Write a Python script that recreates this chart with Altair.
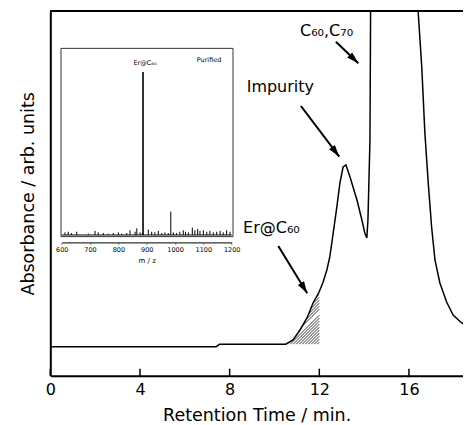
import altair as alt
import pandas as pd
import numpy as np

# ---------------- data ----------------
# HPLC chromatogram: retention time (min) vs absorbance (arb. units)
rt = [0.0, 7.40, 7.55, 10.50, 10.56, 10.83, 11.14, 11.45, 11.72, 11.99, 12.16,
      12.34, 12.47, 12.56, 12.79, 12.92, 13.06, 13.19, 13.37, 13.68, 13.90, 14.03,
      14.12, 14.17, 14.26, 14.30, 15.40, 16.41, 16.57, 16.71, 16.86, 17.01, 17.16,
      17.38, 17.68, 17.97, 18.35, 18.77]
absorb = [29, 29, 31.5, 31.5, 32.4, 35.7, 45.7, 57.7, 72.7, 83.7, 93,
          106, 119, 133, 170, 192.7, 208.7, 210.7, 198.7, 175.7, 155.7, 142.7,
          137.7, 155.7, 235.7, 420, 900, 364, 309, 242.7, 192.7, 148.7, 115.7,
          92.7, 73.7, 60.7, 52.7, 47.7]
rt_ticks = [0, 4, 8, 12, 16]
hatch_from, hatch_to, hatch_base = 10.45, 12.0, 31.5

# annotations (label, arrow tail, arrow head)
ann_text = ["C\u2086\u2080,C\u2087\u2080", "Impurity", "Er@C\u2086\u2080"]
ann_t = [11.14, 8.76, 8.60]
ann_a = [339.7, 284.0, 142.4]
arr_t0 = [12.74, 11.18, 10.17]
arr_a0 = [334.0, 269.7, 129.7]
arr_t1 = [13.74, 12.89, 11.46]
arr_a1 = [312.4, 219.0, 82.4]

# inset mass spectrum: m/z vs intensity (%)
ms_mz = [611.6, 623, 635, 653, 694, 717.5, 729, 747, 764.5, 782, 800, 812, 829.5,
         841, 859, 865, 876.5, 884.6, 887, 905.7, 917.5, 929, 941, 953, 964.5, 976,
         985, 994, 1005, 1017, 1029, 1037, 1047, 1061, 1070, 1080, 1088, 1100,
         1112, 1123, 1135, 1147, 1159, 1170, 1182, 1194]
ms_int = [1.6, 2.0, 1.2, 2.0, 0.8, 2.5, 1.6, 1.2, 0.8, 1.2, 1.6, 0.8, 1.2,
          2.9, 2.0, 4.1, 1.6, 1.2, 100, 3.3, 2.0, 1.6, 2.5, 1.2, 1.6, 1.2,
          14.3, 1.6, 1.2, 2.0, 2.9, 2.0, 1.6, 4.5, 2.9, 3.7, 2.5, 2.9,
          2.0, 2.5, 1.6, 2.0, 2.5, 1.6, 2.9, 2.0]
mz_ticks = [600, 700, 800, 900, 1000, 1100, 1200]
ms_text = ["Er@C\u2086\u2080", "Purified"]
ms_text_mz = [894, 1120]
ms_text_i = [105.3, 107.4]
ms_box_mz = [597.5, 1204.6]
ms_box_i = [-1.0, 114.5]

# ---------------- layout ----------------
W, H = 412.7, 364.7
X_MAX, Y_MAX = 18.41, 364.7
FONT = "DejaVu Sans"

chrom = pd.DataFrame({"t": rt, "a": absorb})

# hatch lines (45 deg on screen) filling the area under the Er@C60 shoulder
ppx = W / X_MAX
ppy = H / Y_MAX
rows = []
for x0 in np.arange(hatch_to - 80.0 / ppx, hatch_to, 3.0 / ppx):
    tt = np.linspace(max(x0, hatch_from), hatch_to, 600)
    line_a = hatch_base + (tt - x0) * ppx / ppy
    inside = line_a <= np.interp(tt, rt, absorb)
    idx = np.where(inside)[0]
    if len(idx) < 2:
        continue
    # first contiguous run
    run_end = idx[0]
    for k in idx[1:]:
        if k == run_end + 1:
            run_end = k
        else:
            break
    i0, i1 = idx[0], run_end
    if i1 - i0 < 2:
        continue
    rows.append({"t0": tt[i0], "a0": line_a[i0], "t1": tt[i1], "a1": line_a[i1]})
hatch = pd.DataFrame(rows)

ann = pd.DataFrame({"t": ann_t, "a": ann_a, "label": ann_text})
arr = pd.DataFrame({"t0": arr_t0, "a0": arr_a0, "t1": arr_t1, "a1": arr_a1})
arr["ang"] = [
    float(np.degrees(np.arctan2((t1 - t0) * ppx, -((a0 - a1) * ppy))) % 360)
    for t0, a0, t1, a1 in zip(arr_t0, arr_a0, arr_t1, arr_a1)
]
ticks_df = pd.DataFrame({"tv": rt_ticks})


def xs():
    return alt.Scale(domain=[0, X_MAX], nice=False, zero=False)


def ys():
    return alt.Scale(domain=[0, Y_MAX], nice=False, zero=False)


x_axis = alt.Axis(values=rt_ticks, ticks=False, grid=False, labelFontSize=16,
                  labelPadding=6, labelFlush=False, format="d",
                  title="Retention Time / min.", titleFontSize=17.5,
                  titleFontWeight="normal", titlePadding=9, domainWidth=2)
y_axis = alt.Axis(labels=False, ticks=False, grid=False,
                  title="Absorbance / arb. units", titleFontSize=17.5,
                  titleFontWeight="normal", titlePadding=13, domainWidth=2)

line = alt.Chart(chrom).mark_line(color="black", strokeWidth=1.5, clip=True).encode(
    x=alt.X("t:Q", scale=xs(), axis=x_axis),
    y=alt.Y("a:Q", scale=ys(), axis=y_axis),
    order="t:Q",
)
hatch_l = alt.Chart(hatch).mark_rule(color="black", strokeWidth=0.8).encode(
    x=alt.X("t0:Q", scale=xs(), axis=None), y=alt.Y("a0:Q", scale=ys(), axis=None),
    x2="t1:Q", y2="a1:Q")
tick_l = alt.Chart(ticks_df).mark_rule(color="black", strokeWidth=1.5).encode(
    x=alt.X("tv:Q", scale=xs(), axis=None), y=alt.value(H), y2=alt.value(H - 7))
top_l = alt.Chart(ticks_df).mark_rule(color="black", strokeWidth=2).encode(
    x=alt.value(0), x2=alt.value(W), y=alt.value(0))
text_l = alt.Chart(ann).mark_text(align="left", baseline="alphabetic", fontSize=16,
                                  font=FONT, color="black").encode(
    x=alt.X("t:Q", scale=xs(), axis=None), y=alt.Y("a:Q", scale=ys(), axis=None),
    text="label:N")
arrow_l = alt.Chart(arr).mark_rule(color="black", strokeWidth=2).encode(
    x=alt.X("t0:Q", scale=xs(), axis=None), y=alt.Y("a0:Q", scale=ys(), axis=None),
    x2="t1:Q", y2="a1:Q")
head_l = alt.Chart(arr).mark_point(shape="M0,0L0.6,2L-0.6,2Z", filled=True, size=144,
                                   color="black", opacity=1, strokeWidth=0).encode(
    x=alt.X("t1:Q", scale=xs(), axis=None), y=alt.Y("a1:Q", scale=ys(), axis=None),
    angle=alt.Angle("ang:Q", scale=None))

# ---------------- inset ----------------
ms = pd.DataFrame({"mz": ms_mz, "i": ms_int})
ms["w"] = [1.6 if v == 100 else 1.0 for v in ms_int]
mst = pd.DataFrame({"mz": ms_text_mz, "i": ms_text_i, "label": ms_text})
box = pd.DataFrame({"m0": [ms_box_mz[0]], "m1": [ms_box_mz[1]],
                    "i0": [ms_box_i[0]], "i1": [ms_box_i[1]]})
base_df = pd.DataFrame({"m0": [mz_ticks[0]], "m1": [mz_ticks[-1]], "i": [0]})


def ixs():
    return alt.Scale(domain=[600, 1200], range=[11.4, 181.4], nice=False, zero=False)


def iys():
    return alt.Scale(domain=[0, 100], range=[224, 61], nice=False, zero=False)


ix_axis = alt.Axis(orient="bottom", offset=-133.3, values=mz_ticks, format="d",
                   grid=False, labelFontSize=6.5, labelPadding=2, tickSize=2,
                   domainWidth=1, title="m / z", titleFontSize=7,
                   titleFontWeight="normal", titlePadding=4, labelFlush=False)

box_l = alt.Chart(box).mark_rect(fillOpacity=0, stroke="#333", strokeWidth=1).encode(
    x=alt.X("m0:Q", scale=ixs(), axis=ix_axis), x2="m1:Q",
    y=alt.Y("i0:Q", scale=iys(), axis=None), y2="i1:Q")
base_l = alt.Chart(base_df).mark_rule(color="black", strokeWidth=1).encode(
    x=alt.X("m0:Q", scale=ixs(), axis=None), x2="m1:Q",
    y=alt.Y("i:Q", scale=iys(), axis=None))
spec_l = alt.Chart(ms).mark_rule(color="black").encode(
    x=alt.X("mz:Q", scale=ixs(), axis=None),
    y=alt.Y("i:Q", scale=iys(), axis=None), y2=alt.datum(0),
    strokeWidth=alt.StrokeWidth("w:Q", scale=None))
mst_l = alt.Chart(mst).mark_text(fontSize=6.5, font=FONT, color="black",
                                 baseline="middle").encode(
    x=alt.X("mz:Q", scale=ixs(), axis=None), y=alt.Y("i:Q", scale=iys(), axis=None),
    text="label:N")

chart = alt.layer(
    line, hatch_l, tick_l, top_l, text_l, arrow_l, head_l,
    box_l, base_l, spec_l, mst_l,
).resolve_scale(
    x="independent", y="independent"
).properties(
    width=W, height=H,
    autosize=alt.AutoSizeParams(type="none"),
    padding={"left": 42.3, "top": 3, "right": 0, "bottom": 49},
).configure_view(stroke=None).configure_axis(
    domainColor="black", labelColor="black", titleColor="black",
    labelFont=FONT, titleFont=FONT,
).configure_text(font=FONT)

chart.save("out.html", embed_options={"renderer": "svg", "actions": False})
